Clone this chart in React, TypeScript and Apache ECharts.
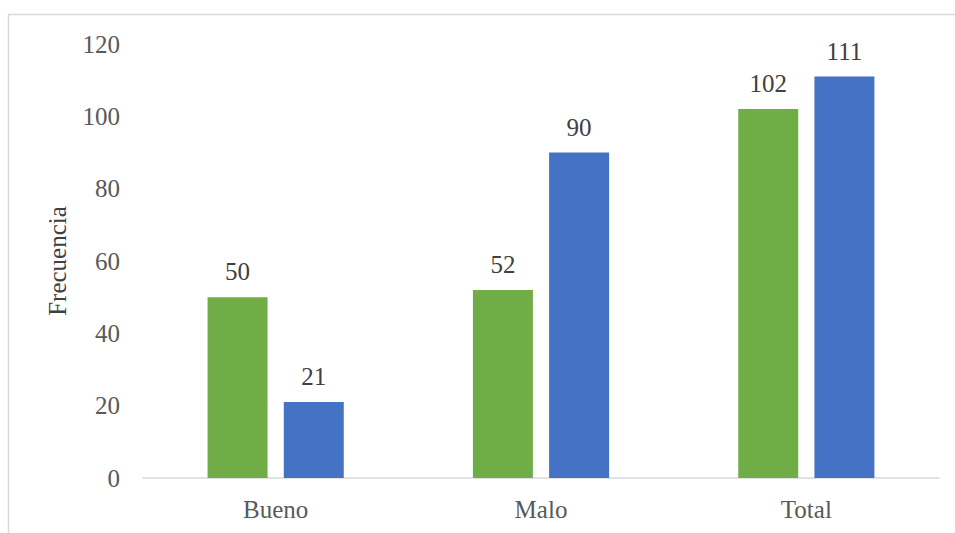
import React, { useEffect, useRef } from "react";
import * as echarts from "echarts";

const categories = ["Bueno", "Malo", "Total"];
const seriesGreen = [50, 52, 102];
const seriesBlue = [21, 90, 111];
const yTicks = { min: 0, max: 120, interval: 20 };

const FONT = "'Liberation Serif', 'Times New Roman', serif";
const SIZE = 25;

export default function App() {
  const ref = useRef<HTMLDivElement>(null);

  useEffect(() => {
    if (!ref.current) return;
    const chart = echarts.init(ref.current, null, { renderer: "svg" });
    const labelStyle = {
      show: true,
      position: "top" as const,
      distance: 13,
      fontFamily: FONT,
      fontSize: SIZE,
      fontWeight: "normal" as const,
      color: "#404040",
    };
    chart.setOption({
      animation: false,
      backgroundColor: "#ffffff",
      graphic: [
        {
          type: "rect",
          shape: { x: 8.5, y: 14.5, width: 1000, height: 600 },
          style: { fill: "none", stroke: "#d9d9d9", lineWidth: 1.5 },
          silent: true,
        },
      ],
      grid: { left: 143, right: 16, top: 44, bottom: 55 },
      xAxis: {
        type: "category",
        data: categories,
        axisLine: { show: true, lineStyle: { color: "#d9d9d9", width: 1.5 } },
        axisTick: { show: false },
        axisLabel: {
          fontFamily: FONT,
          fontSize: SIZE,
          color: "#595959",
          margin: 19,
        },
      },
      yAxis: {
        type: "value",
        min: yTicks.min,
        max: yTicks.max,
        interval: yTicks.interval,
        name: "Frecuencia",
        nameLocation: "middle",
        nameGap: 73,
        nameRotate: 90,
        nameTextStyle: { fontFamily: FONT, fontSize: SIZE, color: "#404040" },
        axisLine: { show: false },
        axisTick: { show: false },
        splitLine: { show: false },
        axisLabel: {
          fontFamily: FONT,
          fontSize: SIZE,
          color: "#595959",
          margin: 23,
        },
      },
      series: [
        {
          type: "bar",
          data: seriesGreen,
          barWidth: 60,
          barGap: "27%",
          itemStyle: { color: "#70ad47" },
          label: labelStyle,
        },
        {
          type: "bar",
          data: seriesBlue,
          barWidth: 60,
          barGap: "27%",
          itemStyle: { color: "#4472c4" },
          label: labelStyle,
        },
      ],
    });
    return () => chart.dispose();
  }, []);

  return (
    <div
      ref={ref}
      style={{ position: "fixed", left: 0, top: 0, width: 955, height: 533 }}
    />
  );
}
